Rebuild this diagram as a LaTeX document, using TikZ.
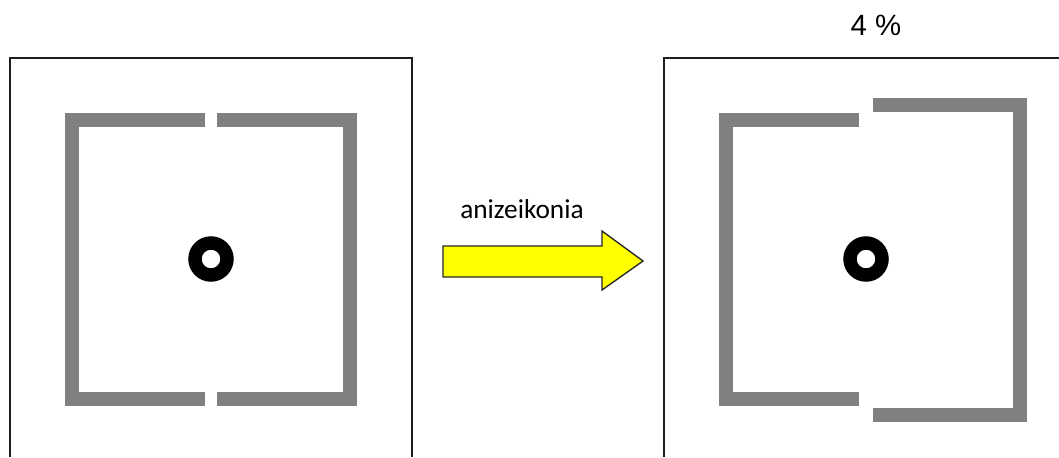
\documentclass[tikz,border=0pt]{standalone}
\usepackage{fontspec}
\setmainfont{Carlito}
\newfontfamily\arialfont{Liberation Sans}
\usetikzlibrary{positioning}
\definecolor{ramka}{RGB}{30,30,30}
\definecolor{szary}{RGB}{128,128,128}
\definecolor{zolty}{RGB}{255,255,0}

\begin{document}
\begin{tikzpicture}[
    x={(0.75pt,0pt)},
    y={(0pt,-0.75pt)},
    ramka/.style={draw=ramka, line width=0.8pt},
    klamra/.style={draw=szary, line width=10.5pt, line join=miter},
    pierscien/.style={circle, draw=black, line width=10.1pt, minimum size=24pt, inner sep=0pt}
]

\useasboundingbox (0,0) rectangle (1059,457);

% Ramki
\draw[ramka] (10,457) -- (10,58) -- (412,58) -- (412,457);
\draw[ramka] (664,457) -- (664,58) -- (1059,58);

% Obraz bez zmian
\draw[klamra] (205,120) -- (72,120) -- (72,399) -- (205,399);
\draw[klamra] (217,120) -- (350,120) -- (350,399) -- (217,399);
\node[pierscien] (okoL) at (211,259) {};

% Obraz powiekszony
\draw[klamra] (859,120) -- (726,120) -- (726,399) -- (859,399);
\draw[klamra] (873,105) -- (1020,105) -- (1020,415) -- (873,415);
\node[pierscien] (okoP) at (866,259) {};

% Strzalka
\draw[fill=zolty, draw=black!85, line width=1pt]
    (443,246) -- (602,246) -- (602,231) -- (643,261) -- (602,290) -- (602,277) -- (443,277) -- cycle;
\node[font=\fontsize{20.5}{24}\selectfont, anchor=base, inner sep=0pt] (opis) at (522,218) {anizeikonia};

% Procent
\node[font=\arialfont\fontsize{22}{26}\selectfont, anchor=base, inner sep=0pt] (procent) at (876,35) {4 \%};

\end{tikzpicture}
\end{document}
